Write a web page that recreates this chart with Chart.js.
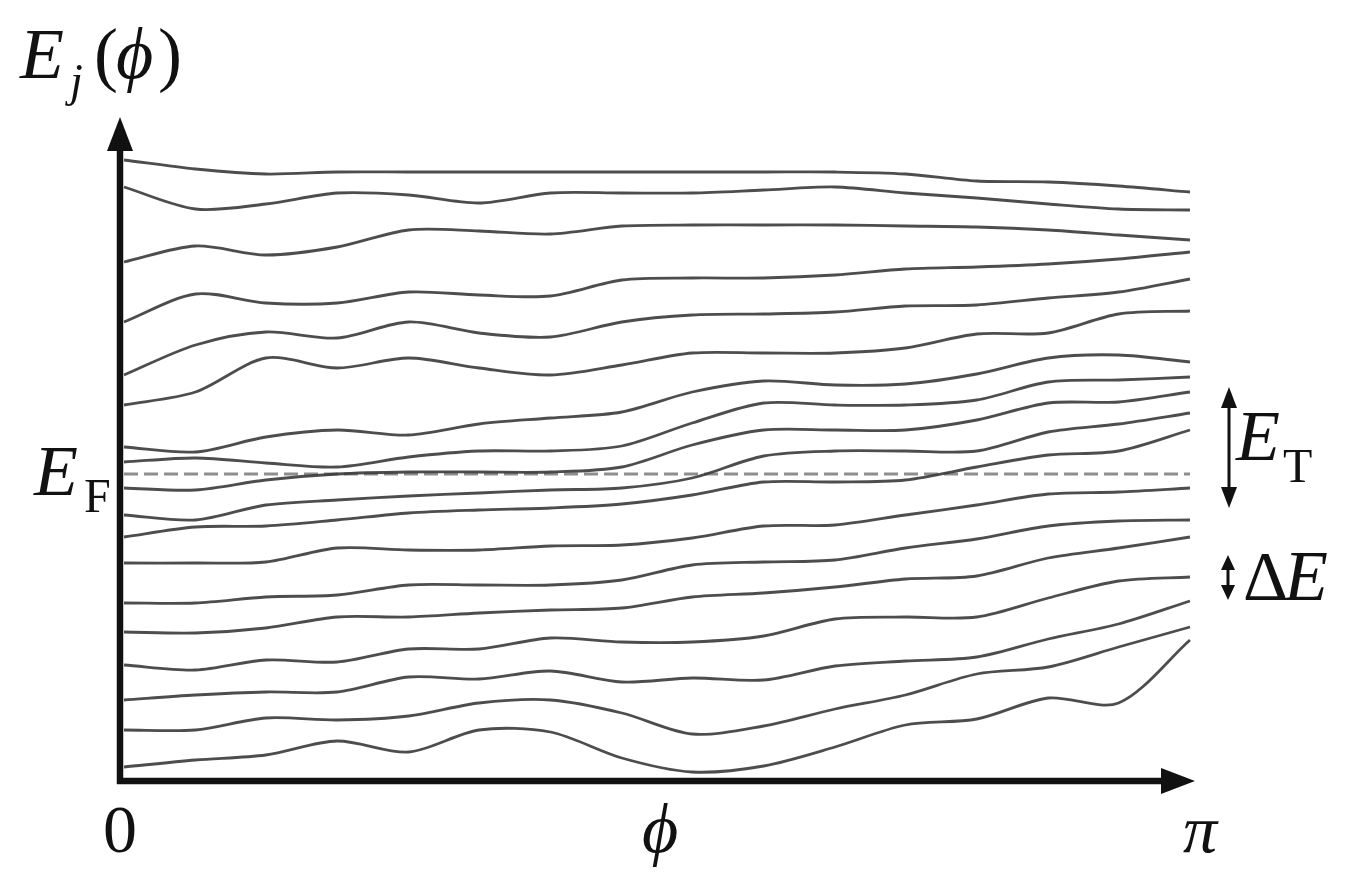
<!DOCTYPE html>
<html><head><meta charset="utf-8">
<script src="https://cdn.jsdelivr.net/npm/chart.js@4.4.1/dist/chart.umd.min.js"></script>
<style>html,body{margin:0;padding:0;background:#fff;}#wrap{width:1351px;height:892px;}</style>
</head><body><div id="wrap"><canvas id="c" width="1351" height="892"></canvas></div>
<script>
// phi / pi sample positions
const phi = [0, 0.067, 0.133, 0.2, 0.267, 0.333, 0.4, 0.467, 0.533, 0.6, 0.667, 0.733, 0.8, 0.867, 0.933, 1];
// energy levels E_j(phi), arbitrary units (top to bottom)
const level01 = [620,611,606,608,608,608,608,608,608,608,608,606,599,598,594,588];
const level02 = [593,571,576,587,585,577,587,587,587,590,593,587,582,576,571,570];
const level03 = [518,534,525,533,550,549,546,554,555,555,555,554,553,550,545,540];
const level04 = [458,486,477,477,488,485,484,500,502,502,505,511,513,516,521,528];
const level05 = [405,435,448,442,458,447,443,458,465,466,468,474,475,482,488,501];
const level06 = [375,388,422,412,422,412,405,415,427,427,427,432,446,447,466,469];
const level07 = [333,328,343,350,345,356,362,368,388,399,395,396,406,422,425,418];
const level08 = [318,322,317,313,323,329,329,334,357,377,375,375,380,398,400,403];
const level09 = [292,290,300,306,308,308,308,313,335,350,350,350,360,377,378,388];
const level10 = [265,260,275,280,284,287,290,292,302,324,329,329,329,348,356,367];
const level11 = [243,253,254,260,267,270,272,276,285,298,298,300,313,325,329,350];
const level12 = [217,217,218,232,230,230,234,235,242,254,255,265,275,286,288,292];
const level13 = [177,177,183,185,195,195,195,200,215,218,220,232,241,254,259,260];
const level14 = [148,147,152,163,163,167,170,172,183,187,193,201,204,222,232,243];
const level15 = [115,110,120,118,131,131,142,138,138,144,161,163,163,182,199,203];
const level16 = [80,85,88,88,103,101,109,98,102,100,114,119,123,141,156,179];
const level17 = [50,50,62,60,64,77,80,67,46,54,71,85,106,113,133,153];
const level18 = [13,20,25,39,28,50,48,22,8,14,33,55,61,82,77,140];
const fermiEnergy = 306;
const xTickValues = [0, 1];
const xTickLabels = ['0', 'π'];

const levels = [level01,level02,level03,level04,level05,level06,level07,level08,level09,
  level10,level11,level12,level13,level14,level15,level16,level17,level18];

const datasets = levels.map(lv => ({
  data: lv.map((e, i) => ({x: phi[i], y: e})),
  borderColor: 'rgba(58,58,58,0.9)',
  borderWidth: 2.8,
  tension: 0.3,
  pointRadius: 0,
  fill: false,
  clip: false
}));
datasets.push({
  data: [{x: 0, y: fermiEnergy}, {x: 1, y: fermiEnergy}],
  borderColor: '#8e8e8e',
  borderWidth: 3,
  borderDash: [14, 6],
  tension: 0,
  pointRadius: 0,
  fill: false
});

const SERIF = '"Liberation Serif", "DejaVu Serif", serif';

function txt(ctx, t, font, x, y) {
  ctx.font = font;
  ctx.fillText(t, x, y);
}

function arrowHead(ctx, tipX, tipY, dirX, dirY, len, half) {
  const bx = tipX - dirX * len, by = tipY - dirY * len;
  const px = -dirY, py = dirX;
  ctx.beginPath();
  ctx.moveTo(tipX, tipY);
  ctx.lineTo(bx + px * half, by + py * half);
  ctx.lineTo(bx - px * half, by - py * half);
  ctx.closePath();
  ctx.fill();
}

const axesPlugin = {
  id: 'axesPlugin',
  afterDatasetsDraw(chart) {
    const ctx = chart.ctx;
    const xs = chart.scales.x, ys = chart.scales.y;
    const x0 = xs.left - 4;
    const y0 = ys.bottom + 1;
    ctx.save();
    ctx.fillStyle = '#111';
    ctx.strokeStyle = '#111';
    // y axis
    ctx.lineWidth = 6.5;
    ctx.beginPath();
    ctx.moveTo(x0, y0 + 3);
    ctx.lineTo(x0, ys.top + 28);
    ctx.stroke();
    arrowHead(ctx, x0, ys.top - 3, 0, -1, 34, 13);
    // x axis
    ctx.beginPath();
    ctx.moveTo(x0 - 3, y0);
    ctx.lineTo(xs.right - 25, y0);
    ctx.stroke();
    arrowHead(ctx, xs.right + 5, y0, 1, 0, 34, 13);

    ctx.textBaseline = 'alphabetic';
    // tick labels
    ctx.textAlign = 'center';
    xTickValues.forEach((v, i) => {
      const px = xs.getPixelForValue(v);
      ctx.font = (i === 0 ? '' : 'italic ') + '68px ' + SERIF;
      ctx.fillText(xTickLabels[i], i === 0 ? px - 4 : px + 10, 852);
    });
    // x axis title
    ctx.font = 'italic 70px ' + SERIF;
    ctx.fillText('ϕ', 660, 852);

    ctx.textAlign = 'left';
    // y axis title E_j(phi)
    txt(ctx, 'E', 'italic 72px ' + SERIF, 20, 78);
    txt(ctx, 'j', 'italic 46px ' + SERIF, 70, 96);
    txt(ctx, '(', '72px ' + SERIF, 94, 78);
    txt(ctx, 'ϕ', 'italic 72px ' + SERIF, 116, 78);
    txt(ctx, ')', '72px ' + SERIF, 158, 78);
    // E_F
    txt(ctx, 'E', 'italic 72px ' + SERIF, 34, 495);
    txt(ctx, 'F', '48px ' + SERIF, 84, 512);
    // E_T
    txt(ctx, 'E', 'italic 72px ' + SERIF, 1236, 460);
    txt(ctx, 'T', '48px ' + SERIF, 1283, 482);
    // Delta E
    txt(ctx, 'Δ', '70px ' + SERIF, 1243, 600);
    txt(ctx, 'E', 'italic 72px ' + SERIF, 1284, 600);

    // double arrows
    ctx.lineWidth = 3;
    ctx.beginPath();
    ctx.moveTo(1229, 400); ctx.lineTo(1229, 496); ctx.stroke();
    arrowHead(ctx, 1229, 387, 0, -1, 21, 8);
    arrowHead(ctx, 1229, 508, 0, 1, 21, 8);
    ctx.beginPath();
    ctx.moveTo(1228, 565); ctx.lineTo(1228, 590); ctx.stroke();
    arrowHead(ctx, 1228, 555, 0, -1, 15, 7);
    arrowHead(ctx, 1228, 600, 0, 1, 15, 7);
    ctx.restore();
  }
};

new Chart(document.getElementById('c').getContext('2d'), {
  type: 'line',
  data: {datasets},
  options: {
    responsive: false,
    animation: false,
    devicePixelRatio: 1,
    layout: {padding: {left: 124, right: 161, top: 120, bottom: 112}},
    scales: {
      x: {type: 'linear', min: 0, max: 1, display: false},
      y: {type: 'linear', min: 0, max: 660, display: false}
    },
    plugins: {legend: {display: false}, tooltip: {enabled: false}, title: {display: false}},
    elements: {point: {radius: 0}}
  },
  plugins: [axesPlugin]
});
</script>
</body></html>
